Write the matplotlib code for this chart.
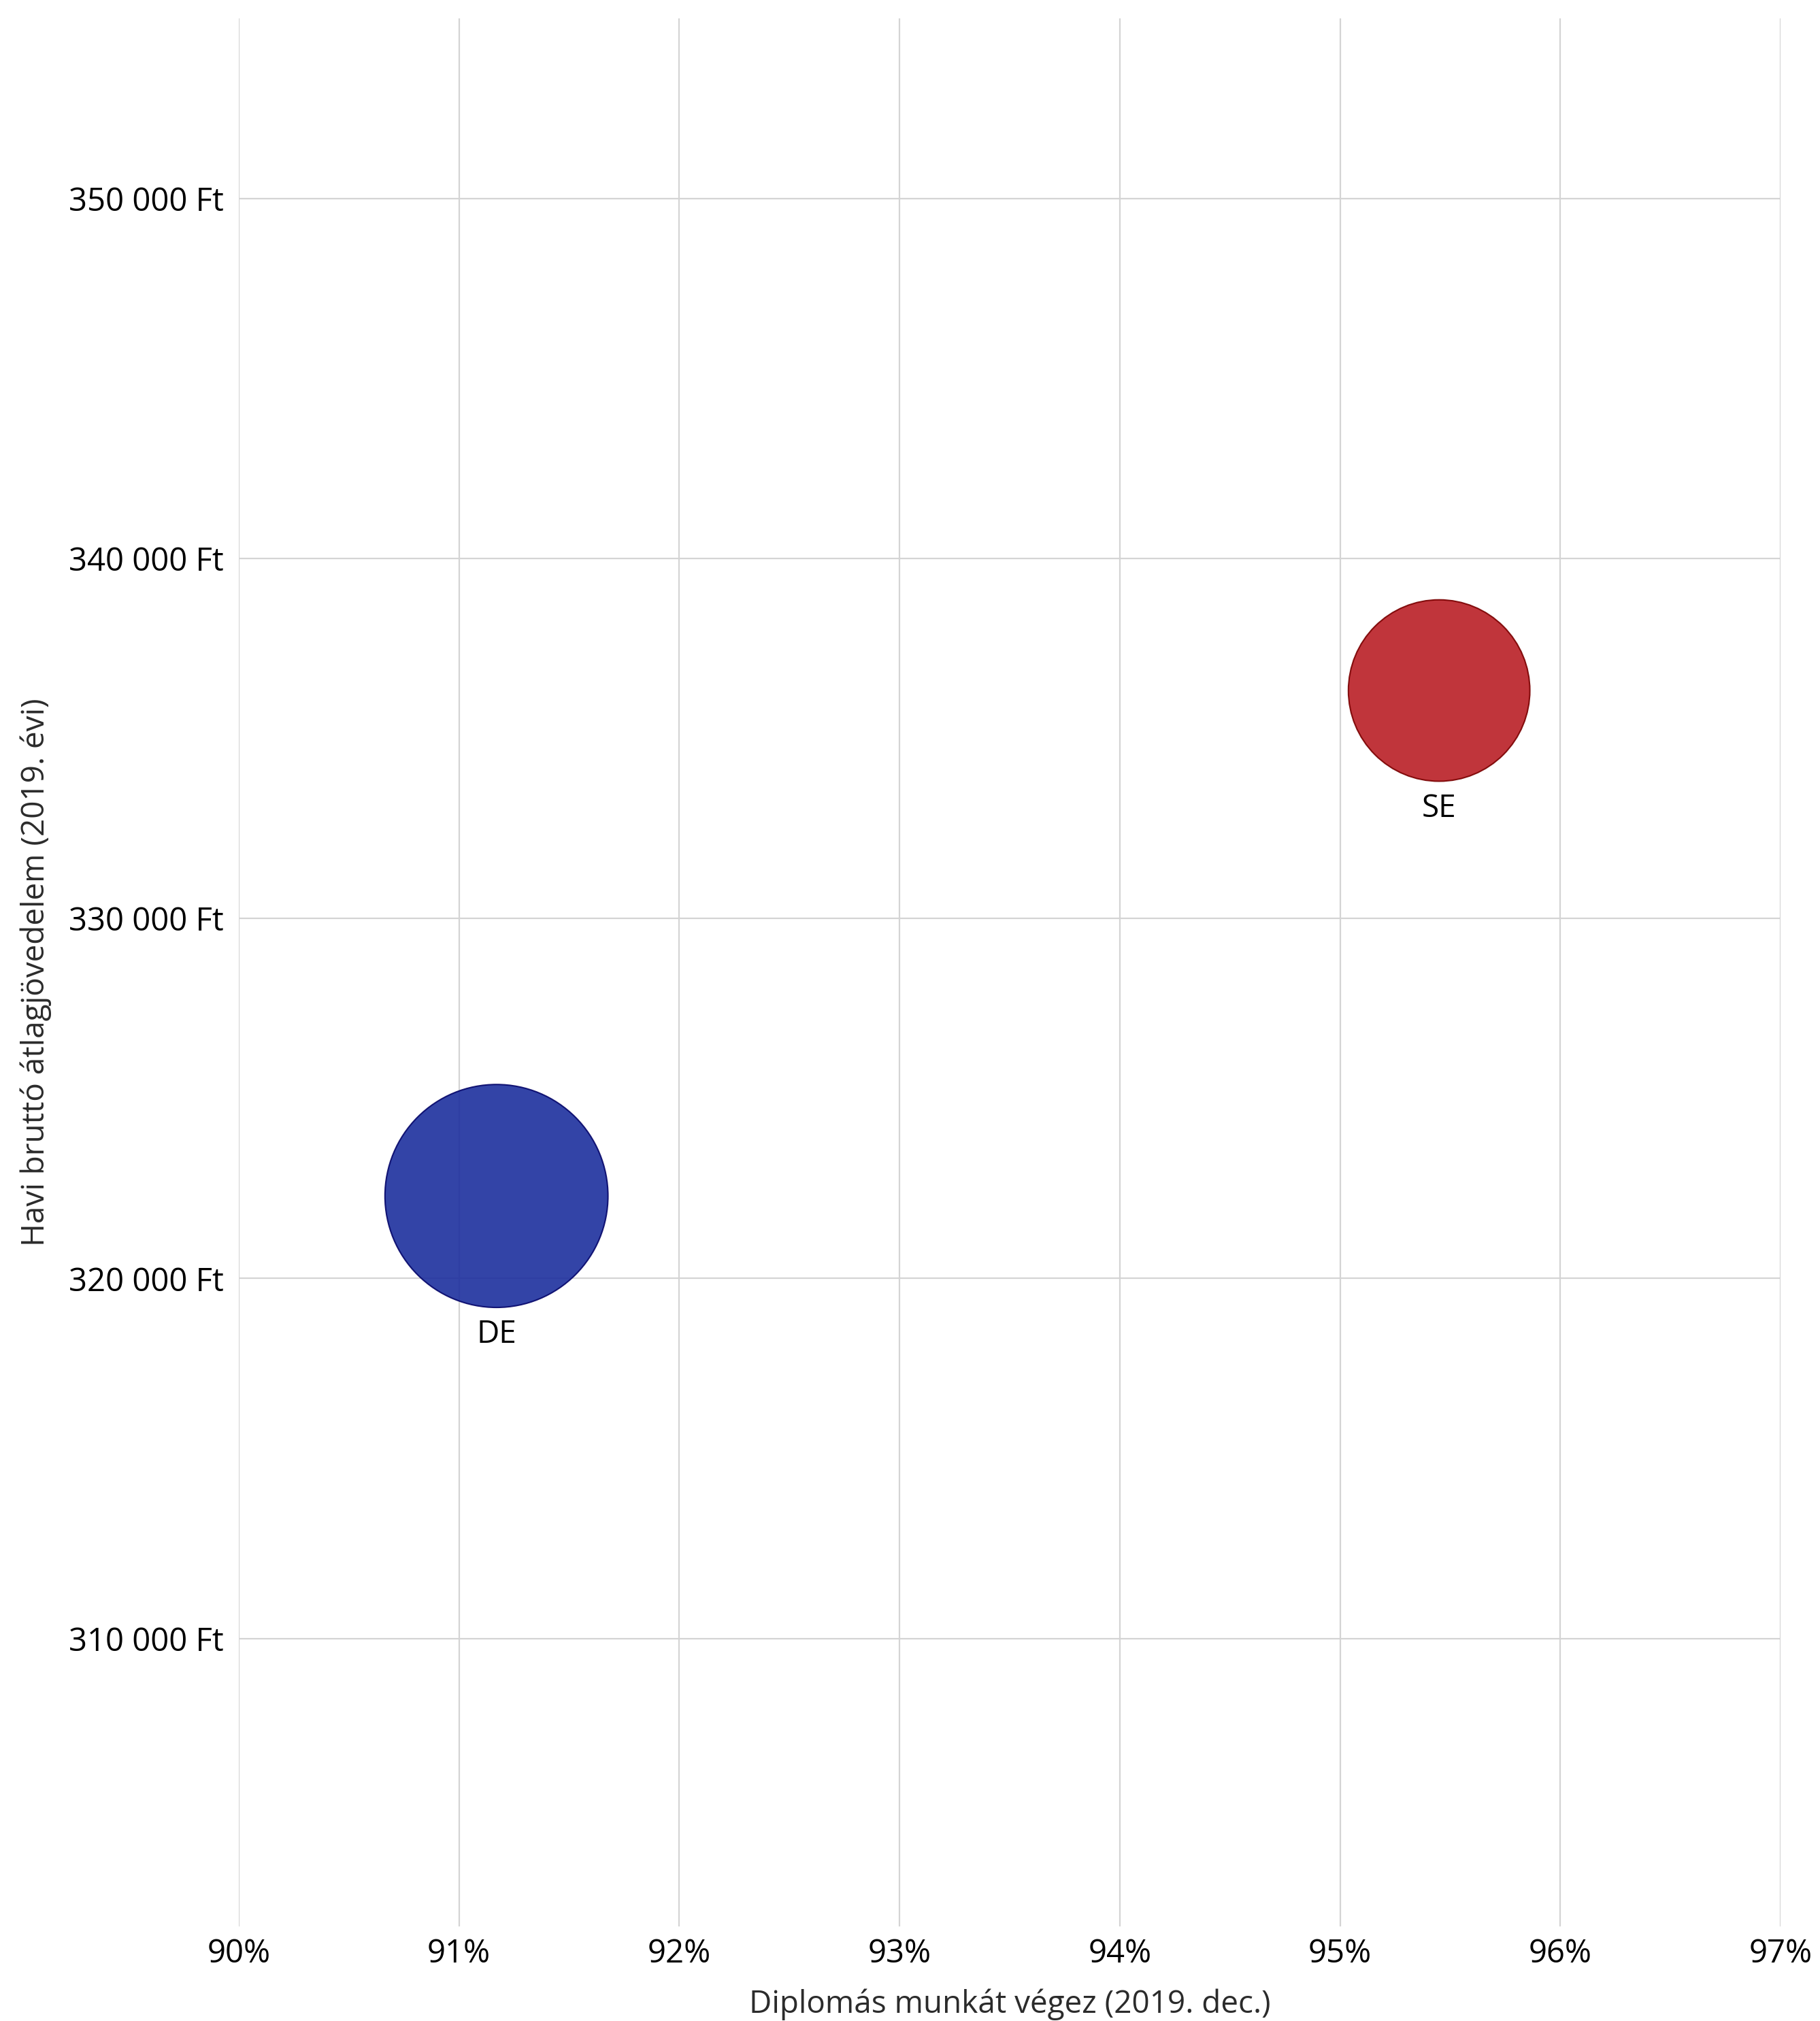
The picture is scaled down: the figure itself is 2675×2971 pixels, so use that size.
import numpy as np
import matplotlib
matplotlib.use("Agg")
import matplotlib.pyplot as plt
from matplotlib.ticker import FuncFormatter

# ---- data ----
labels = ["DE", "SE"]
employed_pct = [91.17, 95.45]           # Diplomás munkát végez (2019. dec.), %
income_ft = [322290, 336330]            # Havi bruttó átlagjövedelem (2019. évi), Ft
bubble_value = [151, 100]               # relative bubble size
x_ticks = [90, 91, 92, 93, 94, 95, 96, 97]
y_ticks = [310000, 320000, 330000, 340000, 350000]

fill_colors = ["#1D2F9E", "#B91F26"]
edge_colors = ["#05066A", "#7A0000"]

plt.rcParams['font.family'] = ['Open Sans', 'DejaVu Sans']

DPI = 100
fig = plt.figure(figsize=(26.75, 29.71), dpi=DPI)
ax = fig.add_axes([0.1312, 0.0468, 0.9783 - 0.1312, 0.9909 - 0.0468])

size_scale = 55700 / 151
s = [v * size_scale for v in bubble_value]

ax.scatter(employed_pct, income_ft, s=s, c=fill_colors, edgecolors=edge_colors,
           linewidths=1.5, alpha=0.9, zorder=3)

for xi, yi, lab, si in zip(employed_pct, income_ft, labels, s):
    off = np.sqrt(si) / 2 + 29
    ax.annotate(lab, (xi, yi), xytext=(0, -off), textcoords='offset points',
                ha='center', va='center', fontsize=33, color='black', zorder=4)

ax.set_xlim(90, 97)
ax.set_ylim(302000, 355000)
ax.set_xticks(x_ticks)
ax.set_yticks(y_ticks)
ax.xaxis.set_major_formatter(FuncFormatter(lambda v, p: f"{int(round(v))}%"))
ax.yaxis.set_major_formatter(FuncFormatter(lambda v, p: f"{int(v):,}".replace(",", " ") + " Ft"))

ax.grid(True, color="#d4d4d4", linewidth=1.6, zorder=0)
ax.set_axisbelow(True)
for sp in ax.spines.values():
    sp.set_visible(False)
ax.tick_params(axis='both', length=0, labelsize=34, colors='black')
ax.tick_params(axis='x', pad=12)
ax.tick_params(axis='y', pad=16)

ax.set_xlabel("Diplomás munkát végez (2019. dec.)", fontsize=33, color="#2b2b2b")
ax.set_ylabel("Havi bruttó átlagjövedelem (2019. évi)", fontsize=33, color="#2b2b2b")
ax.xaxis.label.set_va('center')
ax.yaxis.label.set_va('center')
ax.xaxis.set_label_coords(0.5, -0.041)
ax.yaxis.set_label_coords(-0.1315, 0.5)

fig.savefig("out.png", dpi=DPI, facecolor="white")
